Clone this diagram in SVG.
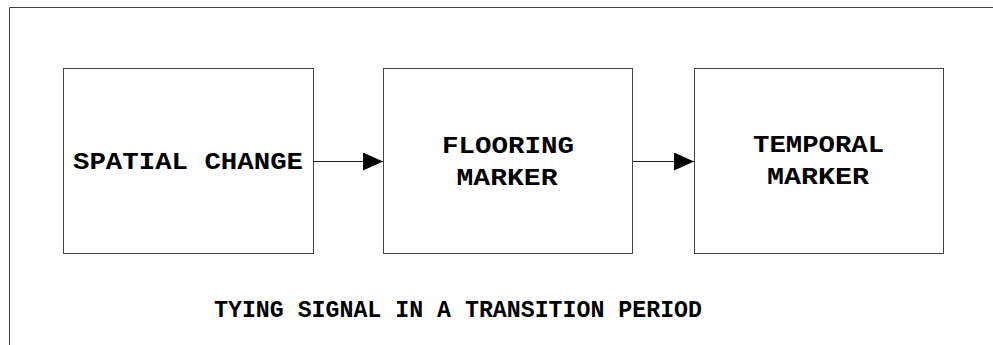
<svg xmlns="http://www.w3.org/2000/svg" width="993" height="345" viewBox="0 0 993 345">
  <style>
    .frame { fill: none; stroke: #444; stroke-width: 1; }
    .box { fill: #fff; stroke: #444; stroke-width: 1; }
    .link { fill: none; stroke: #222; stroke-width: 1; }
    .lbl { font-family: "Liberation Mono", "DejaVu Sans Mono", monospace; font-weight: bold; font-size: 24px; fill: #000; text-anchor: middle; }
  </style>
  <defs>
    <marker id="arrow" viewBox="0 0 20 18" refX="20" refY="9" markerWidth="20" markerHeight="18" markerUnits="userSpaceOnUse" orient="auto">
      <path d="M0,0 L20,9 L0,18 Z" fill="#000"/>
    </marker>
  </defs>
  <rect width="993" height="345" fill="#fff"/>
  <!-- outer frame, open at the right and bottom -->
  <path class="frame" d="M9.5,345 V7.5 H993"/>

  <g id="spatial-change">
    <rect class="box" x="63.5" y="68.5" width="250" height="185"/>
    <text class="lbl" x="188" y="169" textLength="230" lengthAdjust="spacingAndGlyphs">SPATIAL CHANGE</text>
  </g>
  <g id="flooring-marker">
    <rect class="box" x="383.5" y="68.5" width="249" height="185"/>
    <text class="lbl" x="508" y="153" textLength="132" lengthAdjust="spacingAndGlyphs">FLOORING</text>
    <text class="lbl" x="507" y="185" textLength="101" lengthAdjust="spacingAndGlyphs">MARKER</text>
  </g>
  <g id="temporal-marker">
    <rect class="box" x="694.5" y="68.5" width="249" height="185"/>
    <text class="lbl" x="818.5" y="152" textLength="131" lengthAdjust="spacingAndGlyphs">TEMPORAL</text>
    <text class="lbl" x="818" y="184" textLength="102" lengthAdjust="spacingAndGlyphs">MARKER</text>
  </g>

  <g id="connectors">
    <line class="link" x1="314" y1="161.5" x2="383" y2="161.5" marker-end="url(#arrow)"/>
    <line class="link" x1="633" y1="161.5" x2="694" y2="161.5" marker-end="url(#arrow)"/>
  </g>

  <g id="caption">
    <text class="lbl" x="458" y="317" textLength="488" lengthAdjust="spacingAndGlyphs">TYING SIGNAL IN A TRANSITION PERIOD</text>
  </g>
</svg>
